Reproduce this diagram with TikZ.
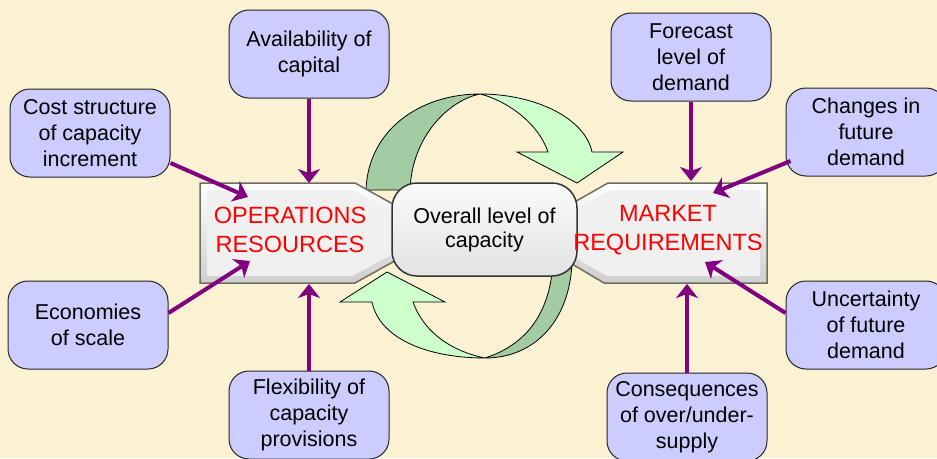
\documentclass[tikz,border=0pt]{standalone}
\usepackage{fontspec}
\setmainfont{Liberation Sans}
\usetikzlibrary{arrows.meta}
\definecolor{paper}{HTML}{FBF1D3}
\definecolor{lilac}{HTML}{CCCCFF}
\definecolor{plum}{HTML}{800080}
\definecolor{mint}{HTML}{CCFFCC}
\definecolor{sage}{HTML}{A3CCA3}
\definecolor{bevel}{HTML}{6E6E60}
\tikzset{
	factor/.style={draw=black!85, line width=1pt, fill=lilac, rounded corners=20pt,
		minimum width=160pt, minimum height=88pt, align=center, inner sep=2pt,
		font=\fontsize{21.5}{26}\selectfont},
	feed/.style={draw=plum, line width=4pt, -{Stealth[length=14pt,width=22pt,inset=4pt]}},
	redtext/.style={text=red, align=center, font=\fontsize{23.5}{28.5}\selectfont},
	ribbon/.style={draw=black, line width=0.8pt},
}
\begin{document}
\begin{tikzpicture}[x=1pt,y=-1pt]
	% page
	\fill[paper] (0,0) rectangle (937,458);
	\useasboundingbox (0,0) rectangle (937,458);
	\clip (0,0) rectangle (937,458);
	% upper ribbon arrow - must be drawn before the bodies!
	\filldraw[ribbon,fill=sage] (480,94) .. controls (420,94) and (368,130) .. (366,190)
		-- (410,190) .. controls (412,135) and (450,100) .. (480,94);
	\filldraw[ribbon,fill=mint] (480,94) .. controls (535,94) and (585,118) .. (592,152)
		-- (623,152) -- (577,183) -- (517,152) -- (548,152)
		.. controls (538,122) and (505,100) .. (480,94);
	% lower ribbon arrow
	\filldraw[ribbon,fill=sage] (485,358) .. controls (535,358) and (570,320) .. (572,262)
		-- (553,262) .. controls (550,315) and (525,345) .. (485,358);
	\filldraw[ribbon,fill=mint] (485,358) .. controls (430,358) and (380,340) .. (372,302)
		-- (340,302) -- (387,272) -- (445,302) -- (413,302)
		.. controls (425,335) and (455,352) .. (485,358);
	% operations body
	\filldraw[draw=bevel,line width=1.5pt,top color=white,bottom color=gray!38]
		(200,183) -- (355,183) -- (445,233) -- (355,283) -- (200,283) -- cycle;
	\fill[gray!12] (207,190) -- (352,190) -- (432,233) -- (352,276) -- (207,276) -- cycle;
	% market body
	\filldraw[draw=bevel,line width=1.5pt,top color=white,bottom color=gray!38]
		(767,183) -- (608,183) -- (520,233) -- (604,283) -- (767,283) -- cycle;
	\fill[gray!12] (760,190) -- (611,190) -- (533,233) -- (607,276) -- (760,276) -- cycle;
	% centre
	\node[draw=black!80, line width=1.5pt, rounded corners=25pt, top color=gray!4, bottom color=gray!22,
		minimum width=185pt, minimum height=93pt, align=center,
		font=\fontsize{21.5}{24}\selectfont] (level) at (484.5,229.5) {Overall level of\\capacity};
	\node[redtext] (ops) at (290,230) {OPERATIONS\\RESOURCES};
	\node[redtext] (mkt) at (668,230) {MARKET\\REQUIREMENTS};
	% arrow targets
	\coordinate (opsN) at (309,183);
	\coordinate (opsS) at (309,284);
	\coordinate (opsNW) at (248,197);
	\coordinate (opsSW) at (250,261);
	\coordinate (mktN) at (691,181);
	\coordinate (mktS) at (687,284);
	\coordinate (mktNE) at (713,193);
	\coordinate (mktSE) at (705,262);
	% resources side
	\node[factor] (capital) at (309,54) {Availability of\\capital};
	\node[factor] (cost) at (90,133) {Cost structure\\of capacity\\increment};
	\node[factor] (scale) at (88,325) {Economies\\of scale};
	\node[factor] (flex) at (309,415) {Flexibility of\\capacity\\provisions};
	\draw[feed] (capital.south) -- (opsN);
	\draw[feed] ([yshift=-30pt]cost.east) -- (opsNW);
	\draw[feed] ([yshift=12pt]scale.east) -- (opsSW);
	\draw[feed] (flex.north) -- (opsS);
	% requirements side
	\node[factor] (forecast) at (691,57) {Forecast\\level of\\demand};
	\node[factor] (changes) at (866,132) {Changes in\\future\\demand};
	\node[factor] (uncert) at (866,325) {Uncertainty\\of future\\demand};
	\node[factor] (conseq) at (687,417) {Consequences\\of over/under-\\supply};
	\draw[feed] (forecast.south) -- (mktN);
	\draw[feed] ([xshift=5pt,yshift=-29pt]changes.west) -- (mktNE);
	\draw[feed] ([yshift=12pt]uncert.west) -- (mktSE);
	\draw[feed] (conseq.north) -- (mktS);
\end{tikzpicture}
\end{document}
